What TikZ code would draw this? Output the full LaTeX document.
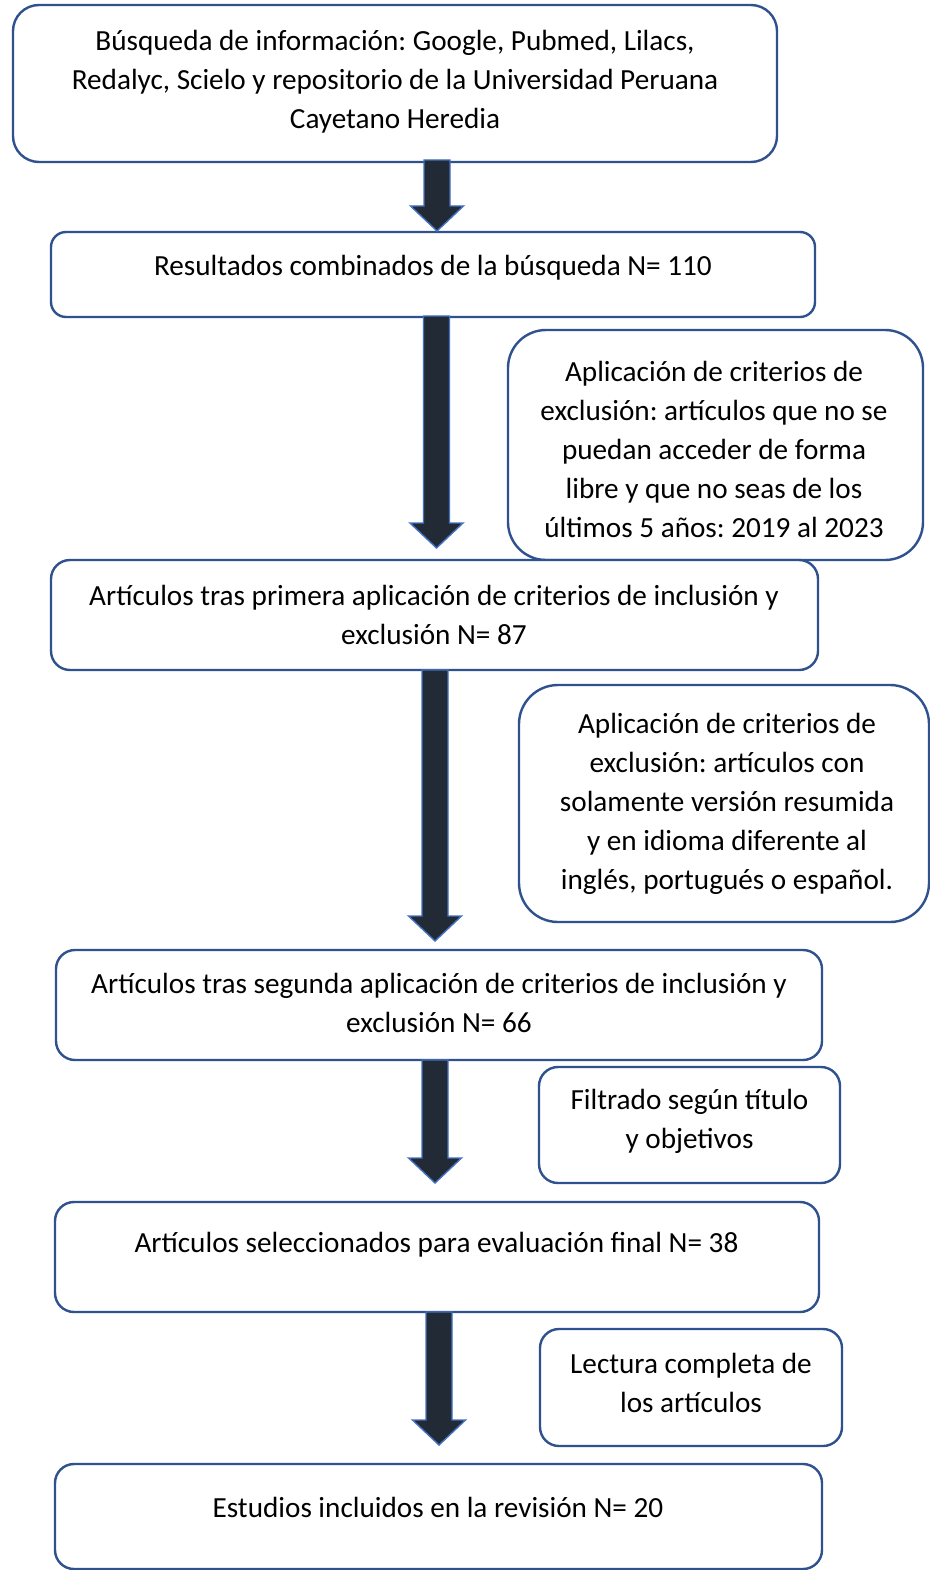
\documentclass[tikz,border=0pt]{standalone}
\usepackage{fontspec}
\setmainfont{Carlito}
\usetikzlibrary{calc}
\frenchspacing
\definecolor{boxline}{HTML}{2F528F}
\definecolor{arrowfill}{HTML}{222A35}
\definecolor{arrowline}{HTML}{4472C4}
\tikzset{
  flowbox/.style={draw=boxline, line width=2.4pt, fill=white, rounded corners=#1, inner sep=0pt, outer sep=0pt},
  flowbox/.default=18pt,
  flowtext/.style={align=center, inner sep=0pt, text=black, font=\fontsize{29.2pt}{39pt}\selectfont\frenchspacing},
  blockarrowstyle/.style={fill=arrowfill, draw=arrowline, line width=1.4pt, line join=miter}
}
\newcommand{\blockarrow}[5]{%
  \path[blockarrowstyle] let \p1=(#1.south), \p2=(#2.north) in
    ({#3pt-13pt},{\y1+#4pt}) -- ({#3pt+13pt},{\y1+#4pt}) -- ({#3pt+13pt},{\y2+#5pt+25pt})
    -- ({#3pt+26.5pt},{\y2+#5pt+25pt}) -- ({#3pt},{\y2+#5pt}) -- ({#3pt-26.5pt},{\y2+#5pt+25pt})
    -- ({#3pt-13pt},{\y2+#5pt+25pt}) -- cycle;}
\begin{document}
\begin{tikzpicture}[x=1pt,y=-1pt]
\path[use as bounding box, fill=white] (0,0) rectangle (929,1570);

% boxes
\node[flowbox=26pt, minimum width=764pt, minimum height=157pt] (b1) at (395,83.5) {};
\node[flowbox=15pt, minimum width=764pt, minimum height=85pt] (b2) at (433,274.5) {};
\node[flowbox=38pt, minimum width=415pt, minimum height=230pt] (s1) at (715.5,445) {};
\node[flowbox=19pt, minimum width=767pt, minimum height=110pt] (b3) at (434.5,615) {};
\node[flowbox=39pt, minimum width=410pt, minimum height=237pt] (s2) at (724,803.5) {};
\node[flowbox=19pt, minimum width=766pt, minimum height=110pt] (b4) at (439,1005) {};
\node[flowbox=19pt, minimum width=301pt, minimum height=116pt] (s3) at (689.5,1125) {};
\node[flowbox=19pt, minimum width=764pt, minimum height=110pt] (b5) at (437,1257) {};
\node[flowbox=19pt, minimum width=302pt, minimum height=117pt] (s4) at (691,1387.5) {};
\node[flowbox=19pt, minimum width=767pt, minimum height=105pt] (b6) at (438.5,1516.5) {};

% texts
\node[flowtext] (t1) at (395,82) {Búsqueda de información: Google, Pubmed, Lilacs,\\Redalyc, Scielo y repositorio de la Universidad Peruana\\Cayetano Heredia};
\node[flowtext] (t2) at (433,268) {Resultados combinados de la búsqueda N= 110};
\node[flowtext] (ts1) at (714,449) {Aplicación de criterios de\\exclusión: artículos que no se\\puedan acceder de forma\\libre y que no seas de los\\últimos 5 años: 2019 al 2023};
\node[flowtext] (t3) at (434,614.5) {Artículos tras primera aplicación de criterios de inclusión y\\exclusión N= 87};
\node[flowtext] (ts2) at (727,804) {Aplicación de criterios de\\exclusión: artículos con\\solamente versión resumida\\y en idioma diferente al\\inglés, portugués o español.};
\node[flowtext] (t4) at (439,1003) {Artículos tras segunda aplicación de criterios de inclusión y\\exclusión N= 66};
\node[flowtext] (ts3) at (689.5,1121) {Filtrado según título\\y objetivos};
\node[flowtext] (t5) at (436.5,1245) {Artículos seleccionados para evaluación final N= 38};
\node[flowtext] (ts4) at (691,1383) {Lectura completa de\\los artículos};
\node[flowtext] (t6) at (438,1507) {Estudios incluidos en la revisión N= 20};

% block arrows
\blockarrow{b1}{b2}{437}{2}{1}
\blockarrow{b2}{b3}{436.5}{1}{12}
\blockarrow{b3}{b4}{435}{0}{9}
\blockarrow{b4}{b5}{435}{0}{19}
\blockarrow{b5}{b6}{439}{0}{19}
\end{tikzpicture}
\end{document}
